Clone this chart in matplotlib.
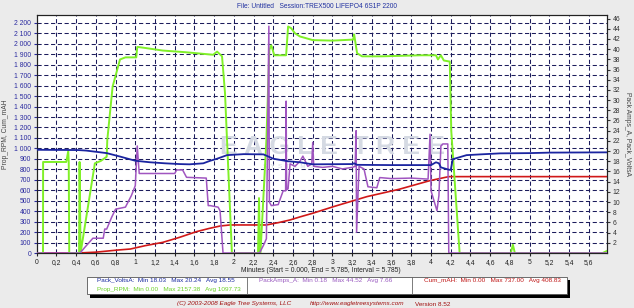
import numpy as np
import matplotlib.pyplot as plt
from matplotlib.patches import Rectangle
from matplotlib.ticker import FixedLocator

plt.rcParams['font.family'] = ['Liberation Sans', 'DejaVu Sans']

# Data (minutes)
rpm_t = [0, 0.064, 0.065, 0.30, 0.32, 0.325, 0.33, 0.43, 0.435, 0.445, 0.59, 0.65, 0.71,
         0.716, 0.77, 0.845, 0.90, 1.01, 1.02, 1.10, 1.28, 1.50, 1.79, 1.83, 1.88, 1.91,
         1.98, 2.245, 2.255, 2.265, 2.27, 2.33, 2.36, 2.38, 2.41, 2.45, 2.53, 2.55, 2.58,
         2.62, 2.67, 2.80, 3.00, 3.21, 3.22, 3.25, 3.30, 3.50, 3.70, 3.90, 4.05, 4.07,
         4.10, 4.13, 4.19, 4.205, 4.29, 4.81, 4.83, 4.85, 5.74, 5.785]
rpm_v = [0, 0, 870, 870, 975, 870, 0, 0, 870, 0, 857, 880, 920,
         1080, 1590, 1850, 1870, 1870, 1970, 1960, 1935, 1920, 1895, 1925, 1880, 1530,
         0, 0, 525, 0, 0, 1080, 1943, 1985, 1890, 1890, 1890, 2165, 2150,
         2100, 2070, 2035, 2030, 2040, 2090, 1910, 1880, 1880, 1885, 1890, 1890, 1850,
         1890, 1840, 1830, 1170, 0, 0, 80, 0, 0, 20]

volts_t = [0, 0.42, 0.5, 0.71, 0.85, 1.0, 1.15, 1.30, 1.45, 1.55, 1.69, 1.76, 1.83, 1.93,
           2.1, 2.30, 2.40, 2.55, 2.67, 2.8, 3.2, 3.22, 3.25, 3.6, 4.0, 4.05, 4.08, 4.10,
           4.18, 4.20, 4.22, 4.36, 4.5, 4.70, 5.0, 5.21, 5.785]
volts_v = [20.25, 20.2, 20.1, 19.6, 18.9, 18.1, 17.8, 17.6, 17.45, 17.4, 17.6, 18.1, 18.5,
           19.2, 19.4, 19.35, 18.5, 18.0, 17.8, 17.4, 17.45, 17.6, 17.3, 17.25, 17.25, 17.8,
           17.6, 16.8, 16.35, 16.3, 18.4, 19.2, 19.35, 19.55, 19.6, 19.7, 19.75]

mah_t = [0, 0.42, 0.6, 0.83, 0.95, 1.10, 1.28, 1.45, 1.62, 1.75, 1.86, 1.96, 2.33, 2.45,
         2.57, 2.67, 2.80, 3.01, 3.35, 3.68, 3.99, 4.18, 5.785]
mah_v = [0, 0, 8, 29, 38, 70, 102, 150, 204, 235, 258, 268, 268, 290,
         316, 345, 380, 443, 539, 610, 692, 730, 730]

amps_t = [0, 0.44, 0.49, 0.57, 0.675, 0.69, 0.71, 0.76, 0.80, 0.90, 0.96, 1.0, 1.02, 1.04,
          1.20, 1.40, 1.42, 1.48, 1.52, 1.72, 1.74, 1.76, 1.84, 1.86, 1.89, 2.26, 2.30,
          2.33, 2.355, 2.36, 2.38, 2.45, 2.47, 2.50, 2.525, 2.53, 2.535, 2.55, 2.57, 2.62,
          2.67, 2.70, 2.75, 2.79, 2.80, 2.81, 2.9, 3.0, 3.1, 3.2, 3.23, 3.24, 3.245, 3.27,
          3.32, 3.36, 3.45, 3.48, 3.6, 3.8, 3.97, 3.99, 4.00, 4.06, 4.08, 4.10, 4.12, 4.17,
          4.18, 5.785]
amps_v = [0, 0, 1.15, 2.9, 2.9, 4.7, 4.7, 7.0, 8.6, 9.0, 11.25, 13.2, 21.0, 15.6,
          15.6, 15.6, 16.3, 16.3, 14.85, 14.7, 9.3, 9.3, 9.0, 8.3, 0, 0, 1.5,
          2.8, 44.5, 10, 9.3, 9.5, 10.6, 12.2, 12.2, 29.8, 12.4, 12.6, 17.5, 17.0,
          18.0, 19.0, 17.0, 17.5, 21.7, 17.0, 16.8, 17.0, 16.5, 16.8, 17.0, 24.0, 4.1, 17.0,
          16.5, 13.0, 12.8, 14.8, 14.6, 14.7, 14.5, 23.3, 12.2, 8.3, 11.25, 21.0, 21.4, 21.4,
          0, 0]

x_ticks = np.round(np.arange(0, 5.61, 0.2), 1)
x_labels = [('%g' % v).replace('.', ',') for v in x_ticks]
left_ticks = np.arange(0, 2201, 100)
left_labels = [('{:,}'.format(v)).replace(',', ' ') for v in left_ticks]
right_ticks = np.arange(2, 47, 2)

W, H = 634, 308
def fx(px):
    return px / W
def fy(py):
    return 1 - py / H

fig = plt.figure(figsize=(6.34, 3.08), dpi=100, facecolor='#ebebeb')
ax = fig.add_axes([fx(36.7), fy(253), fx(607) - fx(36.7), fy(15) - fy(253)])
ax.set_facecolor('white')
ax2 = ax.twinx()

ax.set_xlim(0, 5.785)
ax.set_ylim(0, 2275)
ax2.set_ylim(0, 46.7)

ax.xaxis.set_major_locator(FixedLocator(x_ticks))
ax.set_xticklabels(x_labels)
ax.yaxis.set_major_locator(FixedLocator(left_ticks))
ax.set_yticklabels(left_labels)
ax2.yaxis.set_major_locator(FixedLocator(right_ticks))
ax2.set_yticklabels([str(v) for v in right_ticks])

grid_kw = dict(color='#1c1c5c', linewidth=0.75, linestyle=(0, (4, 2.5)))
ax.grid(True, **grid_kw)
ax.set_axisbelow(True)

fs = 4.9
ax.tick_params(axis='x', labelsize=fs, colors='#222222', length=2, pad=2.5)
ax.tick_params(axis='y', labelsize=fs, colors='#2a2aa0', length=2, pad=2)
ax2.tick_params(axis='y', labelsize=fs, colors='#333333', length=2, pad=2)
for a in (ax, ax2):
    for s in a.spines.values():
        s.set_color('#222222')
        s.set_linewidth(0.8)

# watermark
ax.text(3.0, 1010, 'E A G L E  T R E E', fontsize=19, fontweight='bold', color='#d5dae3',
        ha='center', va='center', zorder=0.6)
ax.text(2.55, 830, 'S  Y  S  T  E  M  S', fontsize=4.5, color='#d5dae3', ha='center',
        va='center', zorder=0.6)

ax.plot(mah_t, mah_v, color='#d01818', lw=1.2, zorder=3)
ax.plot(rpm_t, rpm_v, color='#80f028', lw=1.4, zorder=4)
ax2.plot(amps_t, amps_v, color='#a055c0', lw=1.1, zorder=3)
ax2.plot(volts_t, volts_v, color='#1a24a0', lw=1.3, zorder=4)
ax2.patch.set_visible(False)

fig.text(fx(317), fy(6), 'File: Untitled   Session:TREX500 LIFEPO4 6S1P 2200',
         fontsize=4.8, color='#2030a0', ha='center', va='center')
fig.text(fx(6), fy(134), 'Prop_RPM, Cum_mAH', fontsize=fs, color='#444444',
         rotation=90, ha='center', va='center')
fig.text(fx(628), fy(134), 'Pack Amps_A, Pack_VoltsA', fontsize=fs, color='#444444',
         rotation=270, ha='center', va='center')
fig.text(fx(321), fy(270), 'Minutes (Start = 0.000, End = 5.785, Interval = 5.785)',
         fontsize=fs, color='#222222', ha='center', va='center')

# stats box
fig.add_artist(Rectangle((fx(90), fy(297.5)), fx(570) - fx(90), fy(279.7) - fy(297.5),
                         transform=fig.transFigure, facecolor='black', edgecolor='none'))
fig.add_artist(Rectangle((fx(87), fy(294)), fx(567) - fx(87), fy(276.7) - fy(294),
                         transform=fig.transFigure, facecolor='white', edgecolor='#555555',
                         linewidth=0.6))
for xd in (246.7, 411.7):
    fig.add_artist(plt.Line2D([fx(xd), fx(xd)], [fy(294), fy(276.7)],
                              transform=fig.transFigure, color='#666666', lw=0.6))
bs = 4.6
fig.text(fx(97), fy(280.5), 'Pack_VoltsA:  Min 18.03   Max 20.24   Avg 18.55',
         fontsize=bs, color='#1a2aa0', va='center')
fig.text(fx(97), fy(289.5), 'Prop_RPM:  Min 0.00   Max 2157.38   Avg 1097.73',
         fontsize=bs, color='#6cd028', va='center')
fig.text(fx(259), fy(280.5), 'PackAmps_A:  Min 0.18   Max 44.52   Avg 7.66',
         fontsize=bs, color='#9a5ac0', va='center')
fig.text(fx(424), fy(280.5), 'Cum_mAH:  Min 0.00   Max 737.00   Avg 408.83',
         fontsize=bs, color='#c01818', va='center')

fig.text(fx(177), fy(304), '(C) 2003-2008 Eagle Tree Systems, LLC', fontsize=bs,
         color='#a01010', style='italic', va='center')
fig.text(fx(310), fy(304), 'http://www.eagletreesystems.com', fontsize=bs,
         color='#a01010', style='italic', va='center')
fig.text(fx(415), fy(304), 'Version 8.52', fontsize=bs, color='#a01010', va='center')

fig.savefig('out.png', dpi=100, facecolor=fig.get_facecolor())
